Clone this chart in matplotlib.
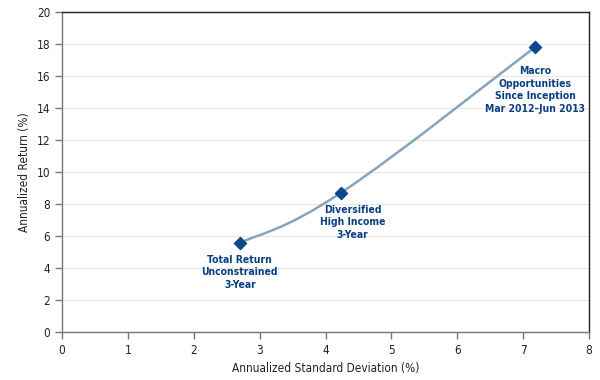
import numpy as np
import matplotlib.pyplot as plt
from matplotlib.path import Path
from matplotlib.patches import PathPatch

plt.rcParams['font.family'] = ['DejaVu Sans']
plt.rcParams['font.stretch'] = 'condensed'

# annualized std dev (%) and annualized return (%)
std_dev = [2.70, 4.23, 7.18]
ret = [5.56, 8.69, 17.8]
labels = ["Total Return\nUnconstrained\n3-Year",
          "Diversified\nHigh Income\n3-Year",
          "Macro\nOpportunities\nSince Inception\nMar 2012\u2013Jun 2013"]
label_dx = [0.0, 0.18, 0.0]
label_dy = [-0.75, -0.75, -1.2]

x_ticks = list(range(0, 9))
y_ticks = list(range(0, 21, 2))

line_col = "#86a5ba"
mark_col = "#0a4a8c"
text_col = "#0a3f80"

fig = plt.figure(figsize=(6, 3.8), dpi=100)
ax = fig.add_axes([0.1033, 0.1263, 0.8784, 0.8421])
ax.set_xlim(0, 8)
ax.set_ylim(0, 20)


def spline_path(xs, ys, smooth=1.5):
    # cubic bezier through the points, control points from neighbours
    verts = [(xs[0], ys[0])]
    codes = [Path.MOVETO]
    n = len(xs)
    for i in range(1, n):
        x0, y0 = xs[i - 1], ys[i - 1]
        x1, y1 = xs[i], ys[i]
        xp, yp = (xs[i - 2], ys[i - 2]) if i >= 2 else (x0, y0)
        xn, yn = (xs[i + 1], ys[i + 1]) if i + 1 < n else (x1, y1)
        c1 = (x0 + (x1 - xp) / (2 * smooth + 2), y0 + (y1 - yp) / (2 * smooth + 2))
        c2 = (x1 - (xn - x0) / (2 * smooth + 2), y1 - (yn - y0) / (2 * smooth + 2))
        verts += [c1, c2, (x1, y1)]
        codes += [Path.CURVE4] * 3
    return Path(verts, codes)


ax.add_patch(PathPatch(spline_path(std_dev, ret), facecolor="none",
                       edgecolor=line_col, lw=1.8, zorder=3))
ax.scatter(std_dev, ret, marker="D", s=38, color=mark_col, zorder=4)

for x, y, t, dx, dy in zip(std_dev, ret, labels, label_dx, label_dy):
    ax.text(x + dx, y + dy, t, ha="center", va="top", fontsize=7.5,
            color=text_col, fontweight="bold", linespacing=1.3)

ax.set_xticks(x_ticks)
ax.set_yticks(y_ticks)
ax.grid(axis="y", color="#e8e8e8", lw=0.8)
ax.set_axisbelow(True)
for s in ["top", "right"]:
    ax.spines[s].set_color("#222222")
    ax.spines[s].set_linewidth(1.0)
for s in ["left", "bottom"]:
    ax.spines[s].set_color("#777777")
    ax.spines[s].set_linewidth(1.0)
ax.tick_params(axis="both", labelsize=8.5, color="#777777", length=5, width=1,
               labelcolor="#222222")
ax.set_xlabel("Annualized Standard Deviation (%)", fontsize=8.5, color="#222222")
ax.set_ylabel("Annualized Return (%)", fontsize=8.5, color="#222222")

fig.savefig("out.png", dpi=100)
